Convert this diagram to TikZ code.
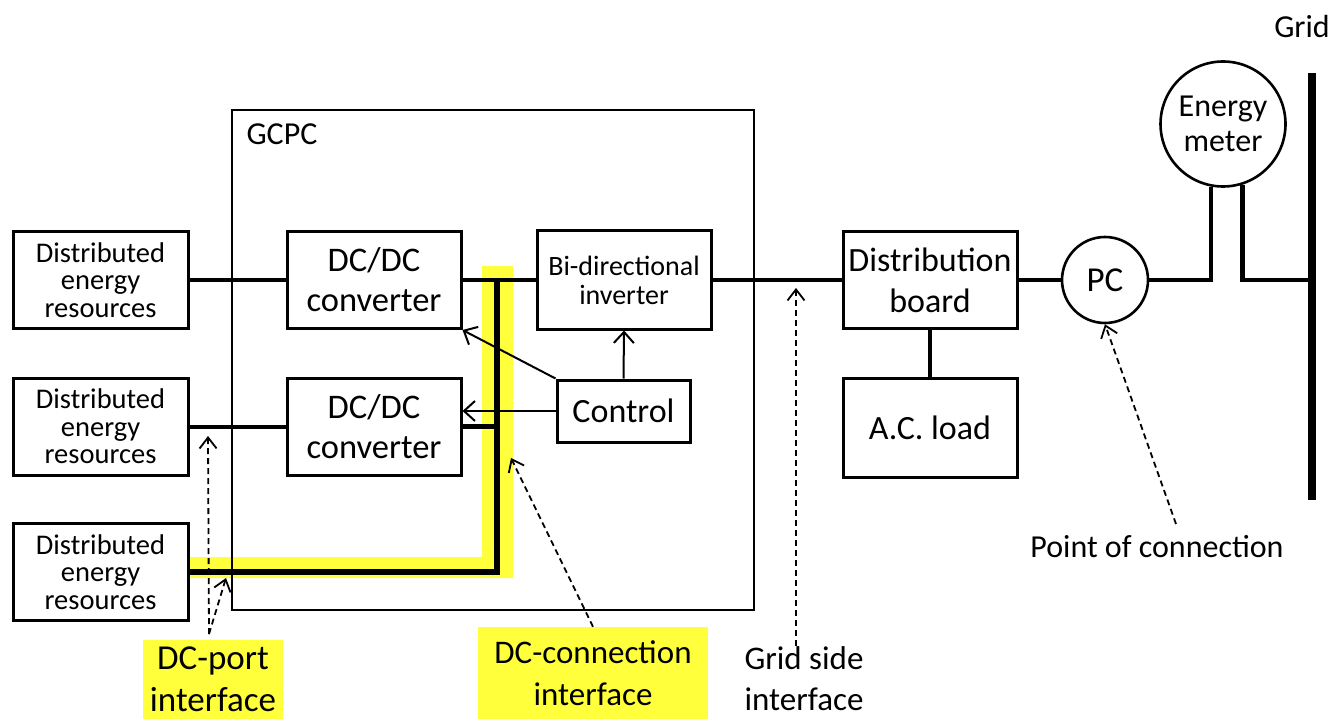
\documentclass[tikz,border=0pt]{standalone}
\usepackage{fontspec}
\setmainfont{Carlito}
\usetikzlibrary{arrows.meta}

\definecolor{hlyellow}{HTML}{FFFF3C}

\begin{document}
\begin{tikzpicture}[
  x=1pt,
  y=-1pt,
  line join=miter,
  box/.style={draw=black,line width=3pt,fill=white,align=center,inner sep=0pt,
    minimum width=174pt,minimum height=97pt,font=\fontsize{34.5}{40}\selectfont},
  derbox/.style={box,minimum width=175pt,font=\fontsize{28.5}{27.5}\selectfont},
  ball/.style={circle,draw=black,line width=2.6pt,fill=white,align=center,inner sep=0pt},
  power/.style={draw=black,line width=4pt},
  bus/.style={draw=black,line width=5.2pt},
  signal/.style={draw=black,line width=2pt,-{Straight Barb[length=11pt,width=20pt]}},
  pointer/.style={draw=black,line width=1.8pt,dash pattern=on 6pt off 4pt,
    -{Straight Barb[length=11pt,width=17pt]}},
  tag/.style={align=center,inner sep=0pt,font=\fontsize{35}{42}\selectfont}
]
  \useasboundingbox (0,0) rectangle (1338,719);

  % Highlighted DC connection.
  \fill[hlyellow] (482,266) -- (513,266) -- (513,578) -- (188,578)
    -- (188,557) -- (482,557) -- cycle;

  % Converter enclosure.
  \draw[line width=2.6pt] (232,110) rectangle (754,610);
  \node[anchor=west,font=\fontsize{32}{38}\selectfont] (gcpc) at (243,134) {GCPC};

  % Blocks.
  \node[derbox] (der1) at (100.5,280) {Distributed\\energy\\resources};
  \node[derbox] (der2) at (100.5,426.5) {Distributed\\energy\\resources};
  \node[derbox] (der3) at (100.5,572) {Distributed\\energy\\resources};
  \node[box] (dc1) at (374,280) {DC/DC\\converter};
  \node[box] (dc2) at (374,426.5) {DC/DC\\converter};
  \node[box,minimum height=98pt,font=\fontsize{28}{29}\selectfont] (inv) at (624,280)
    {Bi-directional\\inverter};
  \node[box,minimum width=133pt,minimum height=62pt,font=\fontsize{34}{40}\selectfont]
    (ctrl) at (623.5,411) {Control};
  \node[box,minimum height=96pt,font=\fontsize{34}{41}\selectfont] (dist) at (930,280)
    {Distribution\\board};
  \node[box,minimum height=99pt,font=\fontsize{34}{40}\selectfont] (load) at (930,427.5)
    {A.C. load};
  \node[ball,minimum size=86pt,font=\fontsize{35}{40}\selectfont] (pc) at (1105,280) {PC};
  \node[ball,minimum size=125pt,font=\fontsize{32}{35}\selectfont] (meter) at (1223,124)
    {Energy\\meter};

  % Bus and grid coordinates.
  \coordinate (bustop) at (497,280);
  \coordinate (busfoot) at (497,572);
  \coordinate (gtop) at (1312,73);
  \coordinate (gbot) at (1312,500);
  \coordinate (gtap) at (1312,280);

  % Power lines.
  \draw[power] (der1) -- (dc1);
  \draw[power] (dc1) -- (inv);
  \draw[power] (inv) -- (dist);
  \draw[power] (dist) -- (pc);
  \draw[power] (der2) -- (dc2);
  \draw[power] (dist) -- (load);
  \draw[bus] (dc2.east) -- (dc2.east -| bustop);
  \draw[bus] (der3.east) -- (busfoot) -- (bustop);
  \draw[power,line width=4.6pt] (pc.east) -- (pc.east -| meter.259) -- (meter.259);
  \draw[power,line width=4.6pt] (meter.288) -- (meter.288 |- gtap) -- (gtap);
  \draw[line width=7.5pt] (gtop) -- (gbot);
  \node[font=\fontsize{32}{38}\selectfont] (grid) at (1302,27) {Grid};

  % Control signals.
  \draw[signal] (ctrl.north west) -- (dc1.south east);
  \draw[signal] (ctrl.west) -- (ctrl.west -| dc2.east);
  \draw[signal] (ctrl.north) -- (inv.south);

  % Interface labels.
  \node[tag,fill=hlyellow,minimum width=140pt,minimum height=79pt] (portlbl) at (213,679.5)
    {DC-port\\interface};
  \node[tag,fill=hlyellow,minimum width=230pt,minimum height=92pt,
    font=\fontsize{33}{42}\selectfont] (connlbl) at (593,673) {DC-connection\\interface};
  \node[tag,font=\fontsize{33}{41}\selectfont] (gridlbl) at (804,679) {Grid side\\interface};
  \node[tag,font=\fontsize{32}{36}\selectfont] (poclbl) at (1157,547) {Point of connection};

  % Pointer ends.
  \coordinate (portfoot) at (209,634);
  \coordinate (porttip1) at (208,436);
  \coordinate (porttip2) at (226,578);
  \coordinate (conntip) at (511,458);
  \coordinate (gridfoot) at (796,646);
  \coordinate (gridtip) at (796,288);
  \coordinate (pocfoot) at (1176,524);

  \draw[pointer] (portfoot) -- (porttip1);
  \draw[pointer] (portfoot) -- (porttip2);
  \draw[pointer] (connlbl.north) -- (conntip);
  \draw[pointer] (gridfoot) -- (gridtip);
  \draw[pointer] (pocfoot) -- (pc.south);
\end{tikzpicture}
\end{document}
